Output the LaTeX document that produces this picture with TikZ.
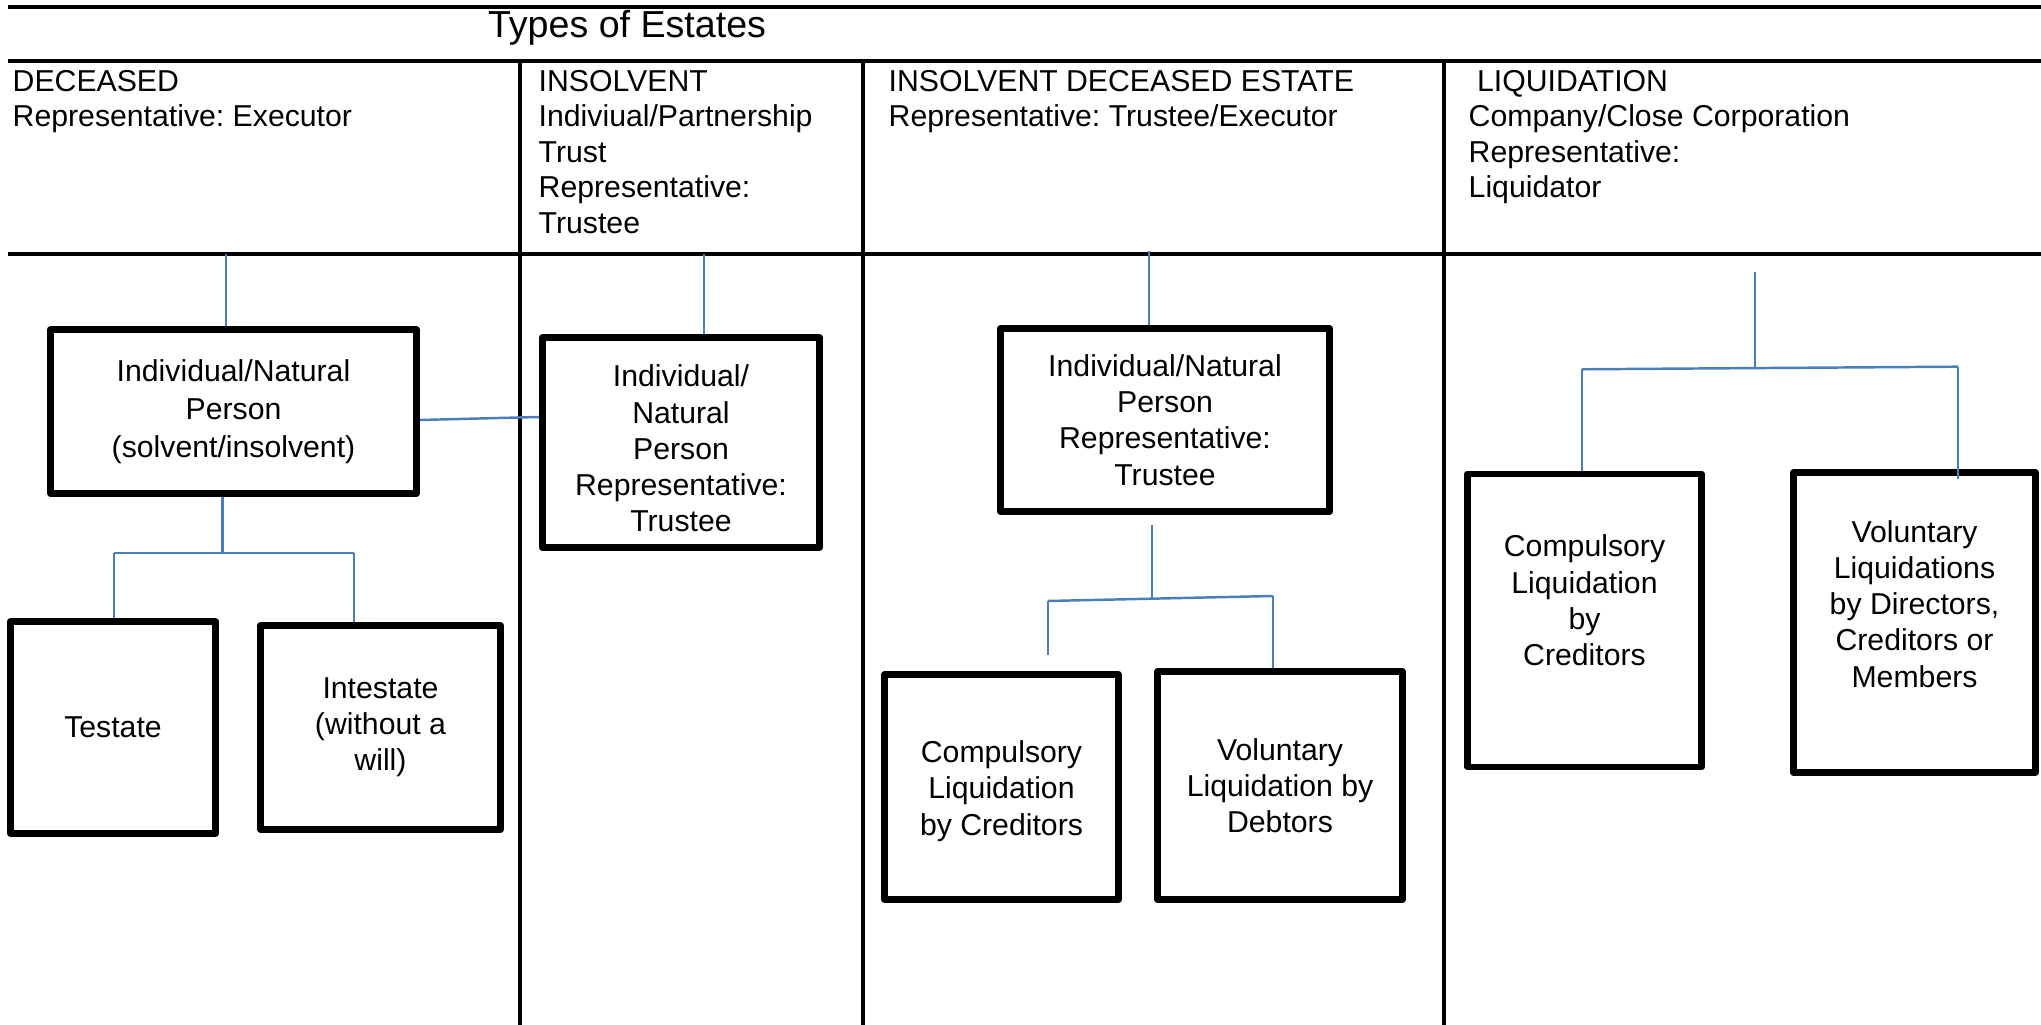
\documentclass[tikz,border=0pt]{standalone}
\usepackage{fontspec}
\setmainfont{Liberation Sans}
\frenchspacing
\definecolor{linkblue}{RGB}{74,126,187}
\begin{document}
\begin{tikzpicture}[
  rule/.style={line width=1.1pt},
  boxtext/.style={align=center, inner sep=0pt, font=\fontsize{8.6}{10.3}\selectfont},
  box/.style={boxtext, draw, line width=1.9pt, line join=round},
  head/.style={anchor=north west, align=left, inner sep=0pt, font=\fontsize{8.6}{10.1}\selectfont},
  link/.style={draw=linkblue, line width=0.7pt}]
\useasboundingbox (0,0) rectangle (20.41,10.25);
% table
\draw[rule] (0.08,10.183) -- (20.41,10.183);
\draw[rule] (0.08,9.64) -- (20.41,9.64);
\draw[rule] (0.08,7.71) -- (20.41,7.71);
\draw[rule] (5.20,9.64) -- (5.20,0);
\draw[rule] (8.63,9.64) -- (8.63,0);
\draw[rule] (14.44,9.64) -- (14.44,0);
\node[anchor=base, inner sep=0pt, font=\fontsize{10.7}{12}\selectfont] (title) at (6.27,9.877) {Types of Estates};
\node[head] (deceased) at (0.12,9.555) {DECEASED\\Representative: Executor};
\node[head] (insolvent) at (5.38,9.555) {INSOLVENT\\Indiviual/Partnership\\Trust\\Representative:\\Trustee};
\node[head] (insdec) at (8.88,9.555) {INSOLVENT DECEASED ESTATE\\Representative: Trustee/Executor};
\node[head] (liquidation) at (14.68,9.555) {\ LIQUIDATION\\Company/Close Corporation\\Representative:\\Liquidator};
% boxes
\node[box, minimum width=3.66cm, minimum height=1.64cm, font=\fontsize{8.6}{10.9}\selectfont] (nat) at (2.335,6.135) {Individual/Natural\\Person\\(solvent/insolvent)};
\node[box, minimum width=2.05cm, minimum height=2.12cm] (testate) at (1.13,2.975) {Testate};
\node[box, minimum width=2.40cm, minimum height=2.04cm] (intestate) at (3.805,2.975) {Intestate\\(without a\\will)};
\node[box, minimum width=2.77cm, minimum height=2.10cm] (insol) at (6.81,5.825) {};
\node[boxtext] (insoltxt) at ([yshift=-0.06cm]insol.center) {Individual/\\Natural\\Person\\Representative:\\Trustee};
\node[box, minimum width=3.29cm, minimum height=1.83cm] (ide) at (11.65,6.05) {Individual/Natural\\Person\\Representative:\\Trustee};
\node[box, minimum width=2.34cm, minimum height=2.25cm] (compD) at (10.015,2.38) {};
\node[boxtext] (compDtxt) at ([yshift=-0.04cm]compD.center) {Compulsory\\Liquidation\\by Creditors};
\node[box, minimum width=2.45cm, minimum height=2.28cm] (volD) at (12.80,2.395) {Voluntary\\Liquidation by\\Debtors};
\node[box, minimum width=2.34cm, minimum height=2.93cm] (compL) at (15.845,4.045) {};
\node[boxtext] (compLtxt) at ([yshift=0.2cm]compL.center) {Compulsory\\Liquidation\\by\\Creditors};
\node[box, minimum width=2.42cm, minimum height=3.00cm] (volL) at (19.145,4.025) {};
\node[boxtext] (volLtxt) at ([yshift=0.185cm]volL.center) {Voluntary\\Liquidations\\by Directors,\\Creditors or\\Members};
% connectors
\coordinate (decTop) at (2.26,7.71);
\coordinate (decMid) at (2.227,4.72);
\coordinate (decL) at (1.14,4.72);
\coordinate (decR) at (3.54,4.72);
\draw[link] (decTop) -- (decTop |- nat.north);
\draw[link] (decMid |- nat.south) -- (decMid);
\draw[link] (decL) -- (decR);
\draw[link] (decL) -- (decL |- testate.north);
\draw[link] (decR) -- (decR |- intestate.north);
\draw[link] ([yshift=-0.085cm]nat.east) -- ([yshift=0.255cm]insol.west);
\coordinate (insTop) at (7.04,7.71);
\draw[link] (insTop) -- (insTop |- insol.north);
\coordinate (ideTop) at (11.49,7.74);
\coordinate (ideMid) at (11.52,4.265);
\coordinate (ideL) at (10.48,4.24);
\coordinate (ideR) at (12.73,4.29);
\draw[link] (ideTop) -- (ideTop |- ide.north);
\draw[link] ([yshift=-0.1cm]ideMid |- ide.south) -- (ideMid);
\draw[link] (ideL) -- (ideR);
\draw[link] (ideL) -- ([yshift=0.16cm]ideL |- compD.north);
\draw[link] (ideR) -- (ideR |- volD.north);
\coordinate (liqTop) at (17.55,7.533);
\coordinate (liqMid) at (17.55,6.57);
\coordinate (liqL) at (15.82,6.557);
\coordinate (liqR) at (19.58,6.583);
\draw[link] (liqTop) -- (liqMid);
\draw[link] (liqL) -- (liqR);
\draw[link] (liqL) -- (liqL |- compL.north);
\draw[link] (liqR) -- ([yshift=-0.1cm]liqR |- volL.north);
\end{tikzpicture}
\end{document}
